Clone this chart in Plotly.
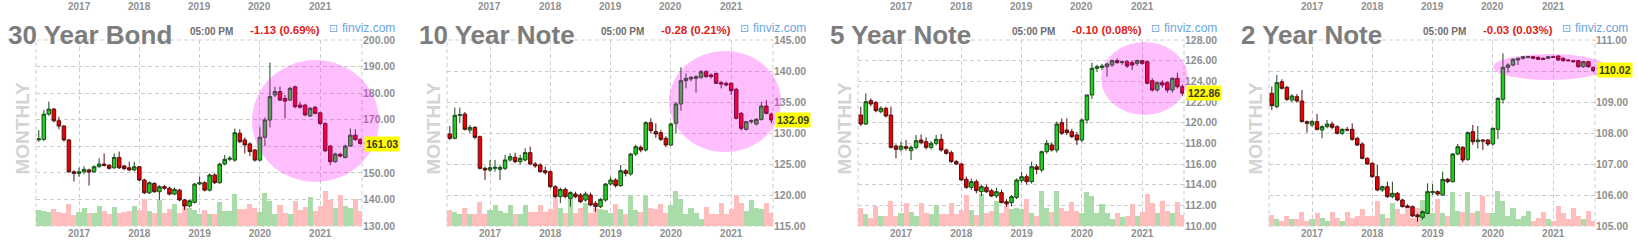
import plotly.graph_objects as go
import pandas as pd

W, H = 1638, 248
FONT = "Liberation Sans, Arial, Helvetica, sans-serif"

# ---------------- categories ----------------
months = [d.strftime("%Y-%m") for d in pd.date_range("2016-05-01", "2021-09-01", freq="MS")]
year_ticks = ["2017", "2018", "2019", "2020", "2021"]

# ---------------- 30 Year Bond ----------------
bond30_open = [162.4, 162.6, 172.1, 174.0, 169.6, 167.6, 162.4, 150.4, 149.8, 150.4, 151.1, 150.4, 152.3, 153.3, 152.9, 151.9, 155.8, 152.6, 151.9, 151.1, 152.3, 147.3, 142.5, 146.0, 142.9, 144.8, 144.2, 142.0, 143.5, 139.8, 137.5, 138.9, 145.8, 146.3, 143.5, 149.2, 146.3, 153.3, 155.1, 154.8, 164.9, 162.4, 160.9, 158.6, 154.8, 163.4, 169.9, 179.3, 180.6, 178.0, 177.4, 182.4, 175.5, 175.5, 171.4, 174.7, 172.6, 168.6, 160.1, 154.2, 157.0, 155.8, 160.1, 164.2, 162.6]
bond30_high = [166.1, 173.7, 176.8, 174.4, 171.1, 168.0, 162.8, 151.0, 152.0, 152.5, 151.6, 152.8, 155.5, 157.3, 153.3, 157.3, 158.0, 153.0, 154.2, 154.2, 152.6, 147.8, 146.8, 146.5, 145.4, 145.5, 144.8, 144.5, 144.0, 140.2, 140.0, 146.2, 148.6, 146.8, 149.8, 149.8, 153.8, 156.7, 156.3, 166.7, 166.4, 163.4, 161.5, 159.0, 167.1, 170.9, 191.5, 182.4, 182.4, 179.3, 182.4, 182.8, 176.8, 176.0, 174.8, 175.2, 173.0, 169.0, 160.5, 157.6, 157.5, 160.6, 166.7, 166.4, 163.0]
bond30_low = [161.7, 162.0, 171.5, 169.0, 166.4, 161.8, 150.0, 146.7, 148.6, 149.5, 145.2, 150.0, 152.0, 152.4, 151.2, 151.5, 151.4, 151.0, 150.6, 150.6, 146.9, 142.0, 142.0, 142.5, 139.8, 143.5, 141.5, 141.6, 139.3, 136.0, 137.0, 138.5, 145.3, 143.0, 143.0, 145.8, 145.9, 152.8, 154.5, 154.2, 161.2, 157.3, 156.3, 154.2, 154.3, 160.0, 167.1, 178.5, 177.0, 170.5, 177.0, 174.3, 174.2, 171.3, 171.0, 172.0, 168.0, 157.8, 152.9, 153.8, 155.9, 155.4, 159.8, 162.0, 160.6]
bond30_close = [162.8, 172.1, 174.0, 169.6, 167.6, 162.4, 150.4, 149.8, 150.4, 151.3, 150.3, 152.3, 153.3, 152.8, 151.7, 155.8, 151.9, 151.6, 151.1, 152.3, 147.3, 142.5, 146.3, 142.9, 144.8, 144.2, 142.0, 143.8, 139.8, 137.5, 139.5, 145.8, 146.3, 143.5, 149.2, 146.3, 153.3, 155.1, 155.5, 165.1, 161.7, 160.5, 158.0, 154.8, 163.4, 169.9, 178.7, 180.6, 177.4, 177.0, 181.8, 174.9, 174.7, 171.8, 174.3, 172.4, 168.6, 158.3, 154.2, 157.1, 156.3, 160.1, 164.2, 162.6, 161.03]
bond30_volume = [86, 80, 75, 90, 75, 68, 116, 57, 75, 98, 72, 68, 107, 80, 63, 104, 72, 75, 80, 107, 86, 143, 80, 72, 140, 72, 90, 116, 72, 104, 98, 86, 63, 86, 63, 63, 129, 80, 80, 170, 90, 90, 116, 98, 75, 179, 134, 63, 111, 72, 63, 134, 86, 104, 158, 80, 107, 188, 140, 98, 165, 107, 98, 143, 80]

# ---------------- 10 Year Note ----------------
note10_open = [129.84, 129.14, 132.85, 133.06, 130.48, 130.91, 129.41, 124.30, 124.03, 124.30, 124.14, 124.30, 125.65, 126.08, 125.38, 125.65, 126.83, 125.00, 124.84, 123.92, 123.76, 121.34, 119.73, 120.91, 119.46, 120.16, 120.00, 119.19, 120.00, 118.66, 118.12, 119.19, 121.77, 122.42, 121.51, 123.92, 123.39, 126.61, 127.69, 127.26, 131.67, 130.22, 130.05, 129.14, 128.06, 131.56, 134.68, 138.44, 138.71, 138.82, 138.98, 139.89, 139.35, 139.62, 138.12, 138.01, 138.01, 137.04, 133.17, 130.59, 131.83, 131.45, 132.20, 134.35, 133.06]
note10_high = [131.13, 134.09, 134.09, 133.4, 131.29, 131.13, 129.6, 124.6, 125.65, 125.65, 124.8, 126.45, 126.72, 126.83, 126.45, 127.53, 127.80, 125.3, 125.1, 124.57, 124.0, 121.6, 121.2, 121.2, 120.6, 120.54, 120.3, 120.54, 120.4, 119.0, 119.5, 121.9, 122.96, 122.7, 124.84, 124.2, 126.8, 128.1, 128.0, 131.9, 132.37, 131.56, 130.5, 129.5, 131.7, 135.0, 140.59, 139.62, 139.2, 139.3, 140.16, 140.16, 139.62, 139.73, 138.4, 138.3, 138.2, 137.3, 133.4, 131.9, 132.2, 132.4, 135.05, 135.32, 133.3]
note10_low = [128.87, 128.98, 131.6, 130.4, 130.0, 129.0, 124.1, 122.42, 123.7, 123.76, 122.42, 124.0, 125.4, 125.1, 124.9, 125.4, 124.8, 124.4, 123.6, 123.3, 121.1, 119.5, 118.7, 119.5, 118.12, 119.5, 118.7, 118.9, 118.2, 117.31, 117.9, 118.9, 121.5, 121.2, 121.3, 123.0, 123.1, 126.3, 126.9, 127.0, 130.0, 129.2, 128.7, 127.69, 127.9, 129.9, 133.60, 137.2, 138.3, 136.51, 138.7, 138.9, 138.8, 137.9, 137.20, 137.5, 136.13, 132.2, 130.4, 130.4, 131.5, 131.2, 132.0, 133.0, 131.6]
note10_close = [129.14, 132.85, 132.96, 130.59, 130.91, 129.30, 124.30, 124.03, 124.41, 124.46, 124.46, 125.65, 126.18, 125.38, 125.91, 126.83, 125.00, 124.68, 123.76, 123.60, 121.34, 119.73, 120.91, 119.73, 120.38, 119.73, 118.92, 120.16, 118.39, 118.12, 119.30, 121.77, 122.42, 121.51, 123.92, 123.49, 126.61, 127.80, 127.26, 131.67, 130.38, 129.84, 128.98, 128.06, 131.45, 134.68, 138.44, 138.82, 138.98, 139.09, 139.89, 139.09, 139.09, 138.01, 137.90, 137.74, 136.83, 132.37, 130.75, 131.83, 131.99, 132.20, 134.35, 133.17, 132.09]
note10_volume = [86, 75, 63, 98, 63, 63, 131, 63, 86, 111, 81, 72, 111, 63, 63, 111, 75, 75, 111, 75, 90, 152, 98, 72, 161, 72, 98, 125, 72, 98, 90, 86, 72, 116, 93, 63, 165, 86, 75, 165, 98, 90, 116, 72, 111, 188, 143, 63, 98, 72, 36, 104, 63, 63, 122, 63, 90, 165, 125, 81, 138, 98, 93, 125, 72]

# ---------------- 5 Year Note ----------------
note5_open = [120.74, 119.87, 122.13, 121.94, 121.06, 121.39, 120.74, 117.74, 117.42, 117.68, 117.29, 117.61, 118.32, 118.16, 117.61, 118.00, 118.39, 117.35, 117.10, 116.23, 116.00, 114.52, 113.74, 114.29, 113.32, 113.74, 113.42, 112.90, 113.23, 112.35, 112.26, 112.77, 114.39, 114.77, 114.29, 115.74, 115.42, 117.19, 117.84, 117.35, 120.00, 119.29, 119.13, 118.81, 118.32, 120.26, 122.68, 125.26, 125.35, 125.42, 125.58, 126.00, 125.81, 125.90, 125.81, 125.74, 126.00, 125.90, 124.06, 123.16, 123.87, 123.87, 123.16, 124.29, 123.48]
note5_high = [121.55, 122.84, 122.35, 122.1, 121.6, 121.55, 121.55, 117.9, 118.16, 118.32, 117.8, 118.81, 118.87, 118.58, 118.2, 118.81, 118.90, 117.5, 117.3, 116.4, 116.1, 114.8, 114.6, 114.5, 114.0, 114.0, 113.6, 113.7, 113.5, 112.6, 113.0, 114.6, 115.26, 115.0, 116.23, 116.0, 117.3, 118.32, 118.1, 120.10, 120.42, 120.42, 119.4, 119.1, 120.4, 122.7, 125.81, 125.6, 125.7, 125.8, 126.1, 126.2, 126.0, 126.05, 126.0, 126.1, 126.1, 126.0, 124.3, 124.0, 124.1, 124.0, 124.4, 124.84, 123.7]
note5_low = [119.68, 119.77, 121.6, 121.0, 120.9, 120.5, 117.5, 116.55, 117.2, 117.3, 116.39, 117.4, 117.9, 117.4, 117.4, 117.8, 117.2, 116.9, 116.1, 115.9, 114.4, 113.6, 113.5, 113.16, 112.9, 113.2, 112.8, 112.7, 112.2, 111.87, 111.9, 112.6, 114.2, 114.0, 114.1, 115.0, 115.2, 117.0, 117.2, 117.1, 118.8, 118.8, 118.5, 117.84, 118.1, 119.9, 122.3, 124.9, 125.1, 124.45, 125.4, 125.7, 125.6, 125.3, 125.10, 125.5, 125.6, 123.7, 123.0, 123.0, 123.4, 122.9, 122.9, 123.3, 122.6]
note5_close = [119.87, 122.03, 121.81, 121.16, 121.39, 120.65, 117.61, 117.42, 117.74, 117.52, 117.61, 118.26, 118.06, 117.61, 118.00, 118.39, 117.35, 117.03, 116.23, 116.00, 114.45, 113.74, 114.29, 113.42, 113.81, 113.32, 112.90, 113.32, 112.26, 112.13, 112.84, 114.45, 114.77, 114.29, 115.74, 115.48, 117.19, 118.00, 117.35, 119.87, 118.97, 119.03, 118.65, 118.32, 120.26, 122.68, 125.26, 125.42, 125.48, 125.68, 126.00, 125.81, 125.90, 125.48, 125.58, 126.00, 125.74, 123.81, 123.16, 123.87, 123.65, 123.16, 124.29, 123.48, 122.86]
note5_volume = [98, 63, 45, 107, 54, 54, 134, 54, 72, 125, 75, 54, 125, 72, 63, 111, 63, 63, 125, 63, 86, 165, 86, 57, 170, 72, 81, 134, 72, 107, 90, 98, 90, 143, 72, 54, 188, 98, 75, 188, 98, 81, 129, 81, 72, 184, 161, 72, 116, 72, 36, 72, 50, 54, 116, 54, 75, 170, 125, 72, 134, 81, 72, 129, 57]

# ---------------- 2 Year Note ----------------
note2_open = [109.280, 108.849, 109.656, 109.473, 109.065, 109.172, 109.032, 108.366, 108.258, 108.366, 108.097, 108.204, 108.290, 108.204, 107.989, 108.118, 108.118, 107.828, 107.645, 107.183, 107.022, 106.591, 106.161, 106.269, 105.946, 106.054, 105.839, 105.645, 105.624, 105.355, 105.280, 105.409, 106.075, 106.108, 106.000, 106.505, 106.430, 107.323, 107.538, 107.151, 108.043, 107.720, 107.774, 107.774, 107.645, 108.118, 109.086, 110.118, 110.194, 110.355, 110.409, 110.441, 110.462, 110.441, 110.409, 110.409, 110.462, 110.484, 110.409, 110.355, 110.333, 110.333, 110.140, 110.301, 110.118]
note2_high = [109.495, 109.871, 109.731, 109.52, 109.25, 109.258, 109.387, 108.40, 108.42, 108.613, 108.25, 108.419, 108.366, 108.25, 108.15, 108.20, 108.312, 107.88, 107.70, 107.22, 107.06, 106.968, 106.30, 106.430, 106.430, 106.10, 105.88, 105.70, 105.66, 105.40, 105.50, 106.376, 106.355, 106.15, 106.753, 106.55, 107.35, 107.65, 107.58, 108.05, 108.258, 108.226, 107.80, 107.80, 108.17, 109.15, 110.570, 110.25, 110.41, 110.43, 110.48, 110.48, 110.48, 110.47, 110.44, 110.48, 110.49, 110.50, 110.44, 110.38, 110.36, 110.36, 110.33, 110.33, 110.14]
note2_low = [108.742, 108.80, 109.40, 109.03, 109.00, 108.98, 108.34, 108.011, 108.20, 108.08, 107.828, 108.15, 108.12, 107.95, 107.93, 108.05, 107.75, 107.58, 107.15, 106.98, 106.55, 106.12, 106.10, 105.90, 105.90, 105.80, 105.60, 105.58, 105.29, 105.140, 105.20, 105.38, 106.00, 105.98, 105.97, 106.38, 106.40, 107.28, 107.05, 107.10, 107.62, 107.50, 107.452, 107.58, 107.60, 107.80, 108.95, 109.95, 110.15, 110.194, 110.37, 110.40, 110.38, 110.35, 110.35, 110.38, 110.42, 110.33, 110.30, 110.31, 110.28, 110.10, 110.10, 110.10, 109.96]
note2_close = [108.882, 109.624, 109.441, 109.086, 109.194, 109.032, 108.366, 108.312, 108.366, 108.118, 108.204, 108.290, 108.183, 107.989, 108.118, 108.097, 107.796, 107.613, 107.183, 107.000, 106.591, 106.161, 106.269, 105.946, 106.054, 105.839, 105.624, 105.602, 105.323, 105.301, 105.462, 106.108, 106.108, 106.032, 106.505, 106.430, 107.323, 107.559, 107.129, 108.011, 107.720, 107.774, 107.742, 107.645, 108.151, 109.118, 110.118, 110.194, 110.376, 110.409, 110.462, 110.462, 110.409, 110.376, 110.376, 110.462, 110.441, 110.355, 110.333, 110.333, 110.301, 110.140, 110.301, 110.140, 110.02]
note2_volume = [57, 36, 27, 54, 36, 36, 75, 27, 36, 68, 45, 27, 75, 45, 27, 75, 45, 54, 90, 54, 54, 134, 63, 45, 125, 90, 63, 111, 45, 98, 138, 81, 72, 143, 72, 54, 183, 81, 75, 183, 72, 81, 161, 72, 72, 188, 134, 54, 98, 36, 54, 81, 27, 45, 75, 36, 27, 107, 72, 36, 98, 54, 36, 81, 27]

titles = ["30 Year Bond", "10 Year Note", "5 Year Note", "2 Year Note"]
changes = ["-1.13 (0.69%)", "-0.28 (0.21%)", "-0.10 (0.08%)", "-0.03 (0.03%)"]
price_ranges = [(130, 200, 10), (115, 145, 5), (110, 128, 2), (105, 111, 1)]

panels = [
    (bond30_open, bond30_high, bond30_low, bond30_close, bond30_volume),
    (note10_open, note10_high, note10_low, note10_close, note10_volume),
    (note5_open, note5_high, note5_low, note5_close, note5_volume),
    (note2_open, note2_high, note2_low, note2_close, note2_volume),
]

# ---------------- layout constants (pixels) ----------------
offsets = [0, 411, 822, 1233]
PLOT_L, PLOT_R, PLOT_T, PLOT_B = 36, 362, 40, 226
ellipses = [(252, 60, 379, 182), (258, 51, 370, 152), (279, 42, 366, 115), (260, 54, 373, 80)]

GRID = "#cdcdcd"
DASH = "4px,3px"
TICK_COLOR = "#8f8f8f"
UP_FILL, UP_LINE = "#1fd01f", "#1a4a1a"
DN_FILL, DN_LINE = "#ee0000", "#551010"
VOL_UP, VOL_DN = "#aadcaa", "#ffbdbd"


def px(x):
    return x / W


def py(y):
    return 1 - y / H


x_idx = [(int(m[:4]) - 2017) * 12 + int(m[5:]) - 1 for m in months]
year_pos = [(int(y) - 2017) * 12 for y in year_ticks]
month_px = 60.3 / 12.0
x_range = [-(79 - PLOT_L) / month_px, (PLOT_R - 79) / month_px]

fig = go.Figure()
layout = dict(
    width=W, height=H, margin=dict(l=0, r=0, t=0, b=0, pad=0, autoexpand=False),
    paper_bgcolor="white", plot_bgcolor="white",
    showlegend=False, bargap=0, boxgap=0.3, boxgroupgap=0,
    font=dict(family=FONT),
)
shapes, annotations = [], []

for i, (op, hi, lo, cl, vol) in enumerate(panels):
    n = i + 1
    off = offsets[i]
    xa = "x" if n == 1 else f"x{n}"
    yv = "y" if n == 1 else f"y{n}"
    yp = f"y{n + 4}"
    vcol = [VOL_UP if c >= o else VOL_DN for o, c in zip(op, cl)]
    fig.add_trace(go.Bar(x=x_idx, y=vol, marker=dict(color=vcol, line=dict(width=0)),
                         xaxis=xa, yaxis=yv, hoverinfo="skip"))
    fig.add_trace(go.Candlestick(
        x=x_idx, open=op, high=hi, low=lo, close=cl, xaxis=xa, yaxis=yp,
        increasing=dict(fillcolor=UP_FILL, line=dict(color=UP_LINE, width=1)),
        decreasing=dict(fillcolor=DN_FILL, line=dict(color=DN_LINE, width=1)),
        whiskerwidth=0,
    ))
    lo_r, hi_r, step = price_ranges[i]
    layout["xaxis" if n == 1 else f"xaxis{n}"] = dict(
        domain=[px(off + PLOT_L), px(off + PLOT_R)], range=x_range, anchor=yv,
        tickmode="array", tickvals=year_pos, ticktext=year_ticks,
        showgrid=True, gridcolor=GRID, griddash=DASH, gridwidth=1,
        zeroline=False, showline=False, ticks="", automargin=False,
        tickfont=dict(size=10, color=TICK_COLOR, family=FONT, weight="bold"),
        rangeslider=dict(visible=False), fixedrange=True,
    )
    layout["yaxis" if n == 1 else f"yaxis{n}"] = dict(
        domain=[py(PLOT_B), py(PLOT_T)], range=[0, 1000], anchor=xa,
        visible=False, showgrid=False, zeroline=False, fixedrange=True, automargin=False,
    )
    layout[f"yaxis{n + 4}"] = dict(
        domain=[py(PLOT_B), py(PLOT_T)], range=[lo_r, hi_r], anchor=xa,
        overlaying=yv, side="right", tick0=lo_r, dtick=step, tickformat=".2f",
        showgrid=True, gridcolor=GRID, griddash=DASH, gridwidth=1,
        zeroline=False, showline=False, ticks="", automargin=False,
        tickfont=dict(size=10.5, color=TICK_COLOR, family=FONT, weight="bold"),
        fixedrange=True,
    )
    # dashed frame
    shapes.append(dict(type="rect", xref="paper", yref="paper",
                       x0=px(off + PLOT_L), x1=px(off + PLOT_R), y0=py(PLOT_B), y1=py(PLOT_T),
                       line=dict(color=GRID, width=1, dash=DASH), layer="below"))
    # highlight ellipse
    ex0, ey0, ex1, ey1 = ellipses[i]
    shapes.append(dict(type="circle", xref="paper", yref="paper",
                       x0=px(off + ex0), x1=px(off + ex1), y0=py(ey1), y1=py(ey0),
                       fillcolor="rgba(255,0,255,0.25)", line=dict(width=0), layer="above"))
    # title and header texts
    annotations.append(dict(text=titles[i], xref="paper", yref="paper", x=px(off + 6), y=py(35),
                            xanchor="left", yanchor="middle", showarrow=False,
                            font=dict(size=26, color="#7d7d7d", family=FONT, weight="bold")))
    annotations.append(dict(text="05:00 PM", xref="paper", yref="paper", x=px(off + 188), y=py(31),
                            xanchor="left", yanchor="middle", showarrow=False,
                            font=dict(size=10, color="#6e6e6e", family=FONT, weight="bold")))
    annotations.append(dict(text=changes[i], xref="paper", yref="paper", x=px(off + 322), y=py(30),
                            xanchor="right", yanchor="middle", showarrow=False,
                            font=dict(size=11.5, color="#e21b1b", family=FONT, weight="bold")))
    annotations.append(dict(text="⊡", xref="paper", yref="paper", x=px(off + 333), y=py(28),
                            xanchor="center", yanchor="middle", showarrow=False,
                            font=dict(size=11, color="#6aa6e2", family="DejaVu Sans")))
    annotations.append(dict(text="finviz.com", xref="paper", yref="paper", x=px(off + 340), y=py(28),
                            xanchor="left", yanchor="middle", showarrow=False,
                            font=dict(size=12, color="#6aa6e2", family=FONT)))
    annotations.append(dict(text="MONTHLY", xref="paper", yref="paper", x=px(off + 21.5), y=py(128),
                            xanchor="center", yanchor="middle", textangle=-90, showarrow=False,
                            font=dict(size=19, color="#d4d4d4", family=FONT, weight="bold")))
    # last price tag
    annotations.append(dict(text=f"{cl[-1]:.2f}", xref="paper", yref=yp, x=px(off + 364), y=cl[-1],
                            xanchor="left", yanchor="middle", showarrow=False, bgcolor="#ffff00",
                            borderpad=1,
                            font=dict(size=10.5, color="#3a3a1a", family=FONT, weight="bold")))
    # year labels of the chart above (at the top edge)
    for yp_pos, ylab in zip(year_pos, year_ticks):
        annotations.append(dict(text=ylab, xref=xa, yref="paper", x=yp_pos, y=1.0,
                                xanchor="center", yanchor="top", showarrow=False, borderpad=0,
                                font=dict(size=10, color=TICK_COLOR, family=FONT, weight="bold")))

layout["shapes"] = shapes
layout["annotations"] = annotations
fig.update_layout(**layout)
fig.write_html("out.html")
